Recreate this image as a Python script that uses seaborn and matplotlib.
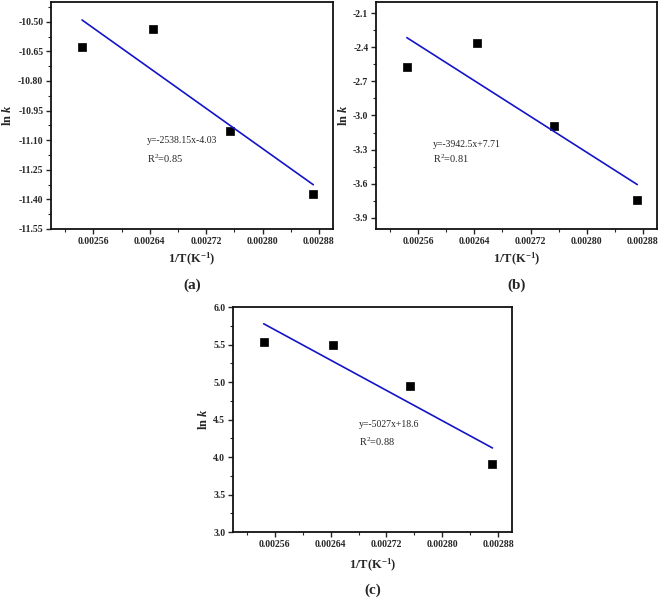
import matplotlib
matplotlib.use("Agg")
import matplotlib.pyplot as plt
import seaborn as sns
from matplotlib.ticker import MultipleLocator, FormatStrFormatter

# ------------------ Data ------------------
inv_T = [0.002544, 0.002644, 0.002754, 0.002872]   # 1/T, K^-1
lnk_a = [-10.628, -10.535, -11.052, -11.373]
lnk_b = [-2.571, -2.365, -3.094, -3.745]
lnk_c = [5.536, 5.50, 4.944, 3.905]

equations = ["y=-2538.15x-4.03", "y=-3942.5x+7.71", "y=-5027x+18.6"]
r_squared = ["0.85", "0.81", "0.88"]
panel_tags = ["(a)", "(b)", "(c)"]

sns.set_style("ticks")
plt.rcParams["font.family"] = ["Liberation Serif", "DejaVu Serif"]
plt.rcParams["mathtext.fontset"] = "custom"
plt.rcParams["mathtext.it"] = "Liberation Serif:italic:bold"
plt.rcParams["mathtext.rm"] = "Liberation Serif"
plt.rcParams["mathtext.default"] = "regular"

fig = plt.figure(figsize=(6.61, 6.04), dpi=100)

# axes boxes in figure fraction
boxes = [
    [0.0772, 0.6209, 0.4266, 0.3758],
    [0.5688, 0.6209, 0.4251, 0.3758],
    [0.3525, 0.1192, 0.4221, 0.3725],
]
ylims = [(-11.55, -10.40), (-4.0, -2.0), (3.0, 6.0)]
ysteps = [0.15, 0.3, 0.5]
yfmts = ["%.2f", "%.1f", "%.1f"]
eq_pos = [(0.34, 0.388, 0.308), (0.203, 0.374, 0.308), (0.452, 0.476, 0.40)]
ylab_x = [-0.131, -0.093, -0.082]
xlab_y = [-0.097, -0.097, -0.111]
tag_y = [-0.247, -0.247, -0.258]

for i, lnk in enumerate([lnk_a, lnk_b, lnk_c]):
    ax = fig.add_axes(boxes[i])
    sns.regplot(x=inv_T, y=lnk, ax=ax, ci=None, marker="s",
                scatter_kws=dict(s=38, color="black", edgecolor="black",
                                 linewidths=0.5, alpha=1),
                line_kws=dict(color="#1414c8", lw=1.2))

    ax.set_xlim(0.0025, 0.0029)
    ax.set_ylim(*ylims[i])
    ax.xaxis.set_major_locator(MultipleLocator(0.00008))
    ax.xaxis.set_minor_locator(MultipleLocator(0.00004))
    ax.xaxis.set_major_formatter(FormatStrFormatter("%.5f"))
    ax.yaxis.set_major_locator(MultipleLocator(ysteps[i]))
    ax.yaxis.set_minor_locator(MultipleLocator(ysteps[i] / 2))
    ax.yaxis.set_major_formatter(FormatStrFormatter(yfmts[i]))

    for s in ax.spines.values():
        s.set_visible(True)
        s.set_linewidth(1.3)
        s.set_color("#111111")
    ax.tick_params(which="major", direction="out", length=3.5, width=1.0,
                   labelsize=7, pad=2, top=False, right=False)
    ax.tick_params(which="minor", direction="out", length=2, width=0.8,
                   top=False, right=False)
    for lab in ax.get_xticklabels() + ax.get_yticklabels():
        lab.set_fontweight("bold")

    ax.set_xlabel(r"1/T(K$^{-1}$)", fontsize=9, fontweight="bold")
    ax.xaxis.set_label_coords(0.5, xlab_y[i])
    ax.set_ylabel(r"ln $\mathit{k}$", fontsize=9, fontweight="bold")
    ax.yaxis.set_label_coords(ylab_x[i], 0.5)

    ex, ey1, ey2 = eq_pos[i]
    ax.text(ex, ey1, equations[i], transform=ax.transAxes, fontsize=7, va="center")
    ax.text(ex, ey2, "R$^{2}$=" + r_squared[i], transform=ax.transAxes,
            fontsize=7.5, va="center")
    ax.text(0.5, tag_y[i], panel_tags[i], transform=ax.transAxes, fontsize=11,
            fontweight="bold", ha="center", va="center")

fig.savefig("out.png", dpi=100)
